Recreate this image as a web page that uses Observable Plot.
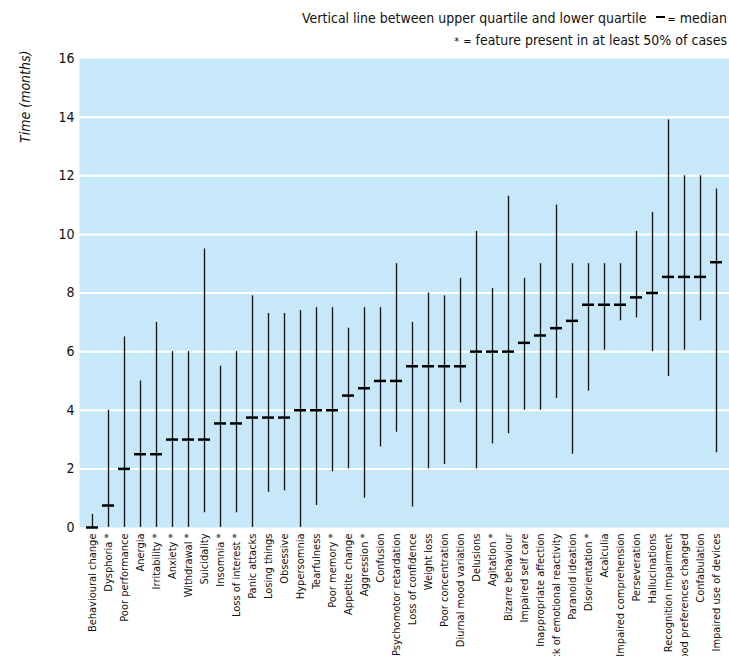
<!DOCTYPE html>
<html><head><meta charset="utf-8">
<script src="https://cdn.jsdelivr.net/npm/d3@7"></script>
<script src="https://cdn.jsdelivr.net/npm/@observablehq/plot@0.6"></script>
<style>
body{margin:0;background:#fff;}
#wrap{position:relative;width:729px;height:656px;overflow:hidden;font-family:"DejaVu Sans Condensed","Liberation Sans Narrow",sans-serif;color:#111;}
#legend{position:absolute;right:2px;top:8px;text-align:right;font-size:14px;line-height:21px;}
#legend .dash{display:inline-block;width:9px;height:2.5px;background:#000;vertical-align:middle;margin:0 2px 0 6px;position:relative;top:-2px;}
#legend .sm{font-size:11px;}
#chart{position:absolute;left:0;top:0;}
</style></head><body>
<div id="wrap">
  <div id="chart"></div>
  <div id="legend">
    <div>Vertical line between upper quartile and lower quartile <span class="dash"></span><span class="sm">=</span> median</div>
    <div><span class="sm">*</span> <span class="sm">=</span> feature present in at least 50% of cases</div>
  </div>
</div>
<script>
const categories = ["Behavioural change","Dysphoria","Poor performance","Anergia","Irritability","Anxiety","Withdrawal","Suicidality","Insomnia","Loss of interest","Panic attacks","Losing things","Obsessive","Hypersomnia","Tearfulness","Poor memory","Appetite change","Aggression","Confusion","Psychomotor retardation","Loss of confidence","Weight loss","Poor concentration","Diurnal mood variation","Delusions","Agitation","Bizarre behaviour","Impaired self care","Inappropriate affection","Lack of emotional reactivity","Paranoid ideation","Disorientation","Acalculia","Impaired comprehension","Perseveration","Hallucinations","Recognition impairment","Food preferences changed","Confabulation","Impaired use of devices"];
const featured = [false,true,false,false,true,true,true,false,true,true,false,false,false,false,false,true,false,true,false,false,false,false,false,false,false,true,false,false,false,false,false,true,false,false,false,false,false,false,false,false];
const medians = [0,0.75,2,2.5,2.5,3,3,3,3.55,3.55,3.75,3.75,3.75,4,4,4,4.5,4.75,5,5,5.5,5.5,5.5,5.5,6,6,6,6.3,6.55,6.8,7.05,7.6,7.6,7.6,7.85,8,8.55,8.55,8.55,9.05];
const lowerQuartile = [0,0,0,0,0,0,0,0.5,0,0.5,0,1.2,1.25,0,0.75,1.9,2,1,2.75,3.25,0.7,2,2.15,4.25,2,2.85,3.2,4,4,4.4,2.5,4.65,6.05,7.05,7.15,6,5.15,6.05,7.05,2.55];
const upperQuartile = [0.45,4,6.5,5,7,6,6,9.5,5.5,6,7.9,7.3,7.3,7.4,7.5,7.5,6.8,7.5,7.5,9,7,8,7.9,8.5,10.1,8.15,11.3,8.5,9,11,9,9,9,9,10.1,10.75,13.9,12,12,11.55];
const yTicks = [0,2,4,6,8,10,12,14,16];
const gridValues = [2,4,6,8,10,12,14];
const yLabel = ["Time (months)"];

const data = categories.map((c, i) => ({
  label: c + (featured[i] ? " *" : ""),
  median: medians[i],
  lo: lowerQuartile[i],
  hi: upperQuartile[i]
}));
const labels = data.map(d => d.label);
const font = '"DejaVu Sans Condensed","Liberation Sans Narrow",sans-serif';

const chart = Plot.plot({
  width: 729,
  height: 656,
  marginLeft: 79,
  marginRight: 0,
  marginTop: 58,
  marginBottom: 129,
  style: {fontFamily: font, fontSize: "11px", color: "#111", background: "transparent"},
  x: {type: "band", domain: labels, padding: 0, label: null},
  y: {domain: [0, 16], label: null},
  marks: [
    Plot.frame({fill: "#c6e8f8", stroke: null}),
    Plot.gridY(gridValues, {stroke: "#fff", strokeOpacity: 1, strokeWidth: 2}),
    Plot.axisY(yTicks, {tickSize: 0, tickPadding: 5, fontSize: 14, label: null}),
    Plot.axisX({tickSize: 0, tickRotate: -90, tickPadding: 6, fontSize: 11, label: null}),
    Plot.ruleX(data, {x: "label", y1: "lo", y2: "hi", stroke: "#111", strokeWidth: 1.3}),
    Plot.tickY(data, {x: "label", y: "median", stroke: "#000", strokeWidth: 2.5, inset: 2}),
    Plot.text(yLabel, {text: d => d, frameAnchor: "top-left", rotate: -90, textAnchor: "end", dx: -59, dy: -8, fontSize: 14, fontStyle: "italic", fill: "#111"})
  ]
});
document.getElementById("chart").appendChild(chart);
</script>
</body></html>
